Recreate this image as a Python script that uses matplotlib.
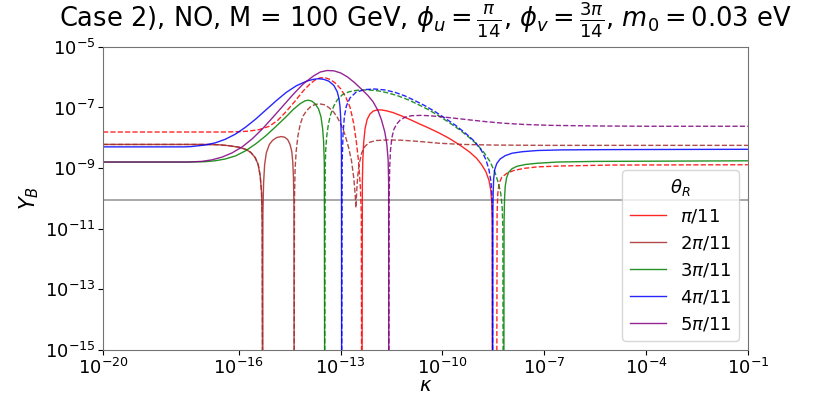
import numpy as np
import matplotlib.pyplot as plt

nan = np.nan

# values: log10(kappa) and log10(Y_B)
# -17 marks a point where Y_B drops through zero (below the visible axis)
red_solid_lk = [-12.37, -12.36, -12.345, -12.32, -12.28, -12.22, -12.14, -12.04, -11.92, -11.80,
                -11.65, -11.45, -11.20, -10.95, -10.70, -10.40, -10.10, -9.80, -9.50, -9.20,
                -9.00, -8.85, -8.72, -8.63, -8.58, -8.55, -8.535, -8.53]
red_solid_ly = [-17, -9.5, -8.7, -8.15, -7.70, -7.40, -7.22, -7.12, -7.08, -7.08,
                -7.11, -7.17, -7.28, -7.40, -7.53, -7.68, -7.84, -8.02, -8.23, -8.47,
                -8.67, -8.88, -9.12, -9.40, -9.70, -10.1, -10.8, -17]
red_dash_lk = [-20, -16.5, -16.0, -15.7, -15.4, -15.1, -14.85, -14.6, -14.35, -14.1,
               -13.9, -13.75, -13.6, -13.45, -13.3, -13.15, -13.0, -12.85, -12.72, -12.62,
               -12.54, -12.47, -12.42, -12.39, -12.38, nan,
               -8.40, -8.39, -8.37, -8.33, -8.25, -8.10, -7.9, -7.6, -7.2, -6.5, -5.0, -1.0]
red_dash_ly = [-7.81, -7.81, -7.80, -7.78, -7.73, -7.62, -7.42, -7.13, -6.80, -6.45,
               -6.22, -6.09, -6.02, -6.02, -6.08, -6.20, -6.38, -6.65, -7.00, -7.50,
               -8.10, -8.80, -9.6, -10.5, -17, nan,
               -17, -10.5, -9.85, -9.50, -9.30, -9.17, -9.08, -9.01, -8.96, -8.93, -8.90, -8.89]

brown_solid_lk = [-20, -17.0, -16.6, -16.3, -16.0, -15.8, -15.65, -15.52, -15.43, -15.37,
                  -15.33, -15.31, -15.30, -15.29, -15.27, -15.24, -15.19, -15.10, -15.00, -14.88,
                  -14.75, -14.65, -14.56, -14.49, -14.44, -14.41, -14.39, -14.375, -14.37]
brown_solid_ly = [-8.22, -8.22, -8.23, -8.26, -8.31, -8.38, -8.48, -8.65, -8.88, -9.25,
                  -9.8, -10.8, -17, -10.5, -9.5, -8.90, -8.50, -8.22, -8.08, -7.99,
                  -7.96, -7.98, -8.06, -8.22, -8.45, -8.80, -9.3, -10.2, -17]
brown_dash_lk = [-20, -17.0, -16.6, -16.3, -16.0, -15.8, -15.65, -15.52, -15.43, -15.37,
                 -15.33, -15.31, -15.30, nan,
                 -14.37, -14.36, -14.34, -14.31, -14.26, -14.19, -14.10, -14.00, -13.88, -13.75,
                 -13.62, -13.48, -13.35, -13.22, -13.10, -12.98, -12.87, -12.77, -12.68, -12.61,
                 -12.57, -12.55, -12.53, -12.50, -12.45, -12.38, -12.28, -12.15, -11.95, -11.6,
                 -11.2, -10.7, -10.1, -9.4, -8.5, -7.0, -1.0]
brown_dash_ly = [-8.22, -8.22, -8.23, -8.26, -8.31, -8.38, -8.48, -8.65, -8.88, -9.25,
                 -9.8, -10.8, -17, nan,
                 -17, -10.0, -9.0, -8.45, -7.95, -7.55, -7.27, -7.10, -6.97, -6.90,
                 -6.88, -6.91, -7.00, -7.13, -7.32, -7.58, -7.90, -8.30, -8.75, -9.35,
                 -9.90, -10.31, -9.85, -9.30, -8.85, -8.50, -8.28, -8.15, -8.09, -8.07,
                 -8.08, -8.12, -8.18, -8.22, -8.24, -8.25, -8.25]

green_solid_lk = [-20, -17.5, -17.0, -16.7, -16.4, -16.1, -15.8, -15.5, -15.2, -14.9,
                  -14.6, -14.4, -14.2, -14.05, -13.95, -13.85, -13.75, -13.65, -13.58, -13.53,
                  -13.50, -13.48, -13.47, nan,
                  -8.19, -8.185, -8.17, -8.15, -8.11, -8.05, -7.95, -7.80, -7.55, -7.2,
                  -6.6, -5.5, -1.0]
green_solid_ly = [-8.80, -8.80, -8.79, -8.76, -8.70, -8.60, -8.43, -8.20, -7.93, -7.62,
                  -7.30, -7.07, -6.88, -6.78, -6.76, -6.79, -6.88, -7.05, -7.30, -7.70,
                  -8.15, -8.9, -17, nan,
                  -17, -10.8, -10.0, -9.60, -9.32, -9.14, -9.02, -8.94, -8.88, -8.84,
                  -8.80, -8.78, -8.76]
green_dash_lk = [-13.47, -13.455, -13.44, -13.41, -13.36, -13.30, -13.20, -13.10, -12.95, -12.75,
                 -12.50, -12.20, -11.90, -11.60, -11.30, -11.00, -10.70, -10.40, -10.10, -9.80,
                 -9.50, -9.20, -9.00, -8.80, -8.60, -8.45, -8.35, -8.28, -8.24, -8.22, -8.21]
green_dash_ly = [-17, -9.0, -8.4, -7.95, -7.55, -7.25, -6.95, -6.75, -6.58, -6.48,
                 -6.43, -6.42, -6.45, -6.52, -6.62, -6.75, -6.91, -7.08, -7.28, -7.50,
                 -7.73, -8.00, -8.20, -8.45, -8.78, -9.15, -9.50, -9.85, -10.3, -11.0, -17]

blue_solid_lk = [-20, -17.6, -17.4, -17.0, -16.7, -16.4, -16.1, -15.8, -15.5, -15.2,
                 -14.9, -14.6, -14.3, -14.0, -13.8, -13.65, -13.5, -13.35, -13.2, -13.1,
                 -13.05, -13.02, -13.0, -12.985, -12.975, -12.97, nan,
                 -8.52, -8.515, -8.505, -8.49, -8.46, -8.40, -8.30, -8.15, -7.95, -7.65,
                 -7.2, -6.5, -5.0, -1.0]
blue_solid_ly = [-8.30, -8.30, -8.29, -8.24, -8.17, -8.05, -7.88, -7.65, -7.38, -7.08,
                 -6.78, -6.50, -6.28, -6.13, -6.07, -6.05, -6.07, -6.13, -6.27, -6.48,
                 -6.70, -6.95, -7.3, -7.8, -8.6, -17, nan,
                 -17, -10.6, -9.8, -9.35, -9.05, -8.85, -8.70, -8.59, -8.51, -8.46,
                 -8.42, -8.40, -8.39, -8.38]
blue_dash_lk = [-12.97, -12.955, -12.93, -12.89, -12.83, -12.72, -12.55, -12.30, -12.00, -11.70,
                -11.40, -11.10, -10.80, -10.50, -10.20, -9.90, -9.60, -9.30, -9.05, -8.85,
                -8.72, -8.63, -8.57, -8.54, -8.525, -8.52]
blue_dash_ly = [-17, -8.8, -7.9, -7.30, -6.95, -6.68, -6.50, -6.41, -6.39, -6.42,
                -6.50, -6.62, -6.78, -6.95, -7.15, -7.37, -7.60, -7.87, -8.12, -8.42,
                -8.72, -9.05, -9.45, -9.9, -10.6, -17]

purple_solid_lk = [-20, -17.5, -17.1, -16.8, -16.5, -16.2, -15.9, -15.6, -15.3, -15.0,
                   -14.7, -14.4, -14.1, -13.8, -13.6, -13.4, -13.2, -13.0, -12.8, -12.6,
                   -12.4, -12.2, -12.05, -11.9, -11.8, -11.7, -11.64, -11.60, -11.585, -11.58]
purple_solid_ly = [-8.80, -8.80, -8.78, -8.73, -8.64, -8.50, -8.30, -8.03, -7.70, -7.33,
                   -6.95, -6.57, -6.22, -5.96, -5.83, -5.78, -5.79, -5.86, -5.99, -6.17,
                   -6.38, -6.60, -6.80, -7.10, -7.40, -7.80, -8.2, -8.73, -9.5, -17]
purple_dash_lk = [-11.58, -11.57, -11.555, -11.53, -11.49, -11.43, -11.35, -11.25, -11.1, -10.9,
                  -10.6, -10.3, -10.0, -9.6, -9.2, -8.7, -8.2, -7.6, -6.8, -5.5, -3.9, -1.0]
purple_dash_ly = [-17, -10.0, -9.0, -8.40, -8.00, -7.72, -7.55, -7.42, -7.32, -7.27,
                  -7.26, -7.28, -7.31, -7.36, -7.41, -7.47, -7.52, -7.56, -7.59, -7.61, -7.62, -7.62]

colors = ['red', 'brown', 'green', 'blue', 'purple']
labels = [r'$\pi/11$', r'$2\pi/11$', r'$3\pi/11$', r'$4\pi/11$', r'$5\pi/11$']
solid = [(red_solid_lk, red_solid_ly), (brown_solid_lk, brown_solid_ly),
         (green_solid_lk, green_solid_ly), (blue_solid_lk, blue_solid_ly),
         (purple_solid_lk, purple_solid_ly)]
dashed = [(red_dash_lk, red_dash_ly), (brown_dash_lk, brown_dash_ly),
          (green_dash_lk, green_dash_ly), (blue_dash_lk, blue_dash_ly),
          (purple_dash_lk, purple_dash_ly)]
Y_obs = 8.7e-11

fig, ax = plt.subplots(figsize=(8.31, 3.94), dpi=100)
fig.subplots_adjust(left=0.124, right=0.900, bottom=0.112, top=0.881)

ax.axhline(Y_obs, color='grey', lw=1.2, alpha=0.8, zorder=1)

for c, lab, (lk, ly), (dk, dy) in zip(colors, labels, solid, dashed):
    ax.plot(10 ** np.array(lk), 10 ** np.array(ly), color=c, lw=1.0, alpha=0.85, label=lab)
    ax.plot(10 ** np.array(dk), 10 ** np.array(dy), color=c, lw=1.0, ls='--', alpha=0.85)

ax.set_xscale('log')
ax.set_yscale('log')
ax.set_xlim(1e-20, 1e-1)
ax.set_ylim(1e-15, 1e-5)
ax.set_xticks([1e-20, 1e-16, 1e-13, 1e-10, 1e-7, 1e-4, 1e-1])
ax.set_yticks([1e-15, 1e-13, 1e-11, 1e-9, 1e-7, 1e-5])
ax.minorticks_off()
ax.tick_params(labelsize=13, pad=2)
for s in ax.spines.values():
    s.set_color('0.45')

ax.set_xlabel(r'$\kappa$', fontsize=14, va='top')
ax.xaxis.set_label_coords(0.5, -0.086)
ax.set_ylabel(r'$Y_B$', fontsize=15, labelpad=3)
ax.set_title(r'Case 2), NO, M = 100 GeV, $\phi_u = \frac{\pi}{14}$, $\phi_v = \frac{3\pi}{14}$, $m_0 = 0.03$ eV',
             fontsize=18.5, pad=14)

ax.legend(title=r'$\theta_R$', loc='lower right', fontsize=13, title_fontsize=13)

fig.savefig('out.png', dpi=100)
